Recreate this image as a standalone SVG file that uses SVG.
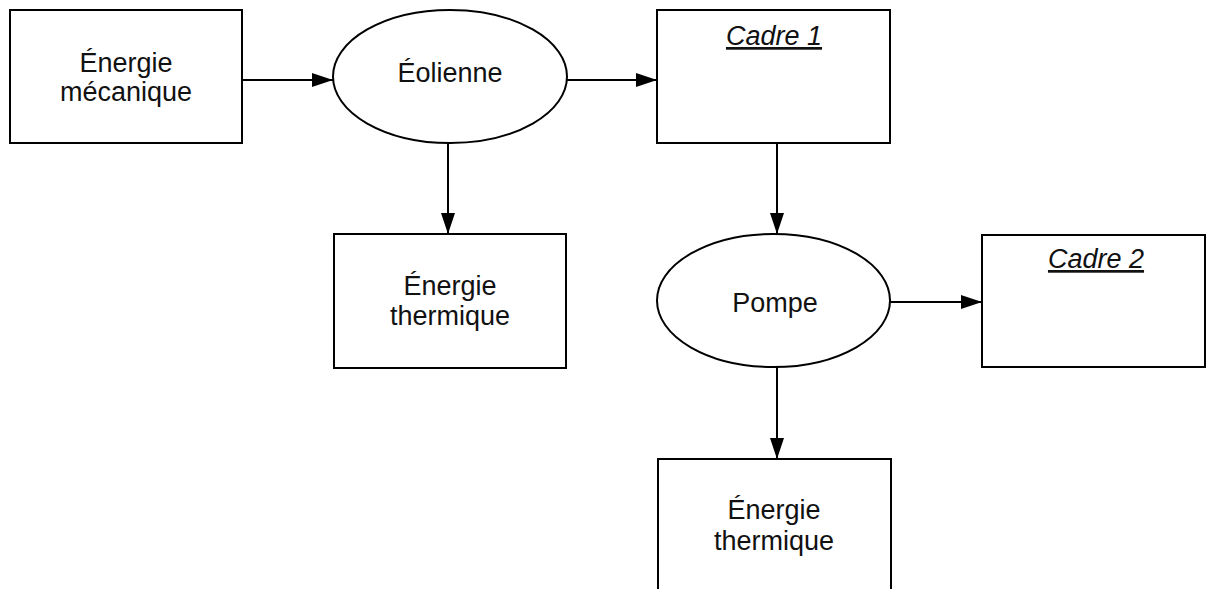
<svg xmlns="http://www.w3.org/2000/svg" width="1208" height="589" viewBox="0 0 1208 589">
<defs>
<style>
.shape{fill:#fff;stroke:#000;stroke-width:2}
.t{font-family:"Liberation Sans",Arial,sans-serif;font-size:27px;fill:#111;text-anchor:middle}
.it{font-style:italic;text-decoration:underline}
.c{stroke:#000;stroke-width:2;fill:none;marker-end:url(#ah)}
</style>
<marker id="ah" markerUnits="userSpaceOnUse" markerWidth="22" markerHeight="14" refX="21" refY="7" orient="auto">
<path d="M0,0 L21,7 L0,14 z" fill="#000"/>
</marker>
</defs>
<rect width="1208" height="589" fill="#fff"/>
<g id="connectors">
<line class="c" x1="242" y1="80" x2="333" y2="80"/>
<line class="c" x1="567" y1="80" x2="657" y2="80"/>
<line class="c" x1="448" y1="143" x2="448" y2="234"/>
<line class="c" x1="777" y1="143" x2="777" y2="234"/>
<line class="c" x1="890" y1="302" x2="982" y2="302"/>
<line class="c" x1="777" y1="367" x2="777" y2="459"/>
</g>
<g id="energie-mecanique">
<rect class="shape" x="10" y="10" width="232" height="133"/>
<text class="t" x="126" y="72">Énergie</text>
<text class="t" x="126" y="101">mécanique</text>
</g>
<g id="eolienne">
<ellipse class="shape" cx="450" cy="76.5" rx="117" ry="66.5"/>
<text class="t" x="450" y="82">Éolienne</text>
</g>
<g id="cadre1">
<rect class="shape" x="657" y="10" width="233" height="133"/>
<text class="t it" x="774" y="45">Cadre 1</text>
</g>
<g id="energie-thermique-1">
<rect class="shape" x="334" y="234" width="232" height="134"/>
<text class="t" x="450" y="295">Énergie</text>
<text class="t" x="450" y="325">thermique</text>
</g>
<g id="pompe">
<ellipse class="shape" cx="773.5" cy="300.5" rx="116.5" ry="66.5"/>
<text class="t" x="775" y="312">Pompe</text>
</g>
<g id="cadre2">
<rect class="shape" x="982" y="235" width="223" height="132"/>
<text class="t it" x="1096" y="268">Cadre 2</text>
</g>
<g id="energie-thermique-2">
<rect class="shape" x="658" y="459" width="233" height="140"/>
<text class="t" x="774" y="519">Énergie</text>
<text class="t" x="774" y="550">thermique</text>
</g>
</svg>
